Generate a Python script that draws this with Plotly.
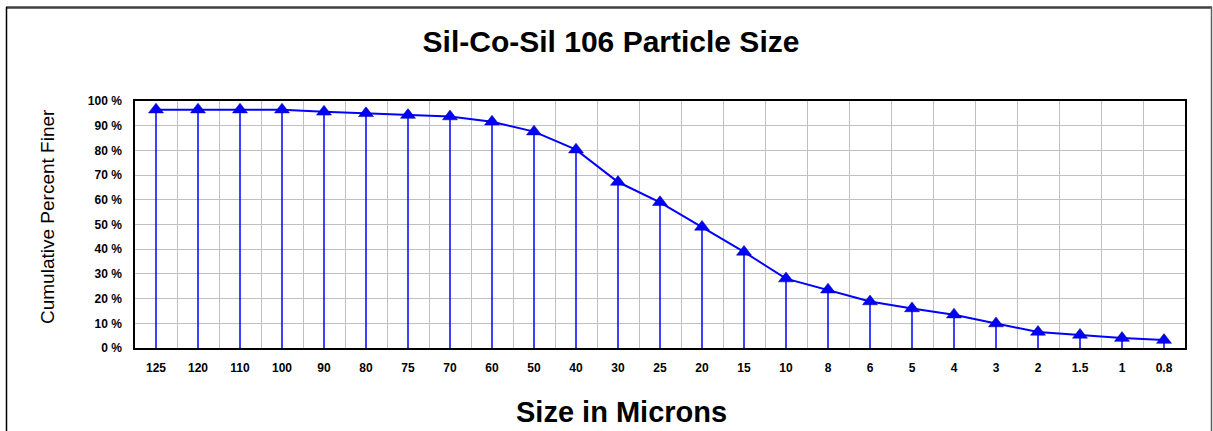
import plotly.graph_objects as go

sizes = ["125", "120", "110", "100", "90", "80", "75", "70", "60", "50", "40", "30", "25",
         "20", "15", "10", "8", "6", "5", "4", "3", "2", "1.5", "1", "0.8"]
cum_finer = [96.5, 96.5, 96.5, 96.5, 95.6, 95.0, 94.3, 93.7, 91.6, 87.6, 80.3, 67.2, 59.0,
             49.0, 38.9, 28.1, 23.6, 18.8, 16.0, 13.5, 9.9, 6.5, 5.3, 4.0, 3.2]
y_ticks = [0, 10, 20, 30, 40, 50, 60, 70, 80, 90, 100]
y_tick_labels = [f"{v} %" for v in y_ticks]

W, H = 1213, 431
ML, MR, MT, MB = 135, 28, 101, 83
PW, PH = W - ML - MR, H - MT - MB

def px_x(px):
    return (px - ML) / PW

def px_y(py):
    return (H - MB - py) / PH

fig = go.Figure()
fig.add_trace(go.Scatter(
    x=sizes, y=cum_finer, mode="lines+markers",
    line=dict(color="#0000FF", width=2),
    marker=dict(symbol="triangle-up", size=13, color="#0000FF",
                line=dict(color="#000080", width=0.5)),
    error_y=dict(type="data", symmetric=False, array=[0] * len(cum_finer),
                 arrayminus=cum_finer, color="#0000FF", thickness=1.5, width=0),
    showlegend=False, hoverinfo="x+y",
))

fig.update_layout(
    width=W, height=H,
    margin=dict(l=ML, r=MR, t=MT, b=MB),
    paper_bgcolor="white", plot_bgcolor="white",
    font=dict(family="Liberation Sans, Arial, sans-serif", color="black"),
    title=dict(text="<b>Sil-Co-Sil 106 Particle Size</b>", x=611 / W, xref="container",
               xanchor="center", y=1 - 41 / H, yanchor="middle", yref="container",
               font=dict(size=30, color="black")),
    xaxis=dict(type="category", tickson="boundaries", showgrid=True,
               gridcolor="#C0C0C0", gridwidth=1, showline=True, linecolor="black",
               linewidth=1.5, mirror=True, ticks="", ticklabelstandoff=8,
               tickfont=dict(size=12, color="black", weight="bold"),
               range=[-0.5, len(sizes) - 0.5], zeroline=False),
    yaxis=dict(range=[0, 100], tickvals=y_ticks, ticktext=y_tick_labels,
               showgrid=True, gridcolor="#C0C0C0", gridwidth=1, showline=True,
               linecolor="black", linewidth=1.5, mirror=True, ticks="",
               ticklabelstandoff=9, zeroline=False,
               tickfont=dict(size=12, color="black", weight="bold")),
    annotations=[
        dict(text="<b>Size in Microns</b>", xref="paper", yref="paper",
             x=px_x(621), y=px_y(412), xanchor="center", yanchor="middle",
             showarrow=False, font=dict(size=29, color="black")),
        dict(text="Cumulative Percent Finer", xref="paper", yref="paper",
             x=px_x(47), y=px_y(217), textangle=-90, xanchor="center", yanchor="middle",
             showarrow=False, font=dict(size=19, color="black")),
    ],
    shapes=[
        dict(type="line", xref="paper", yref="paper",
             x0=px_x(6), x1=px_x(1212), y0=px_y(7.5), y1=px_y(7.5),
             line=dict(color="#404040", width=2.5), layer="below"),
        dict(type="line", xref="paper", yref="paper",
             x0=px_x(6.5), x1=px_x(6.5), y0=px_y(7), y1=px_y(440),
             line=dict(color="black", width=1.5), layer="below"),
        dict(type="line", xref="paper", yref="paper",
             x0=px_x(1211.5), x1=px_x(1211.5), y0=px_y(7), y1=px_y(440),
             line=dict(color="#606060", width=1.5), layer="below"),
    ],
)

fig.write_html("out.html", config={"displayModeBar": False},
               post_script="document.body.style.margin='0';document.documentElement.style.overflow='hidden';")
